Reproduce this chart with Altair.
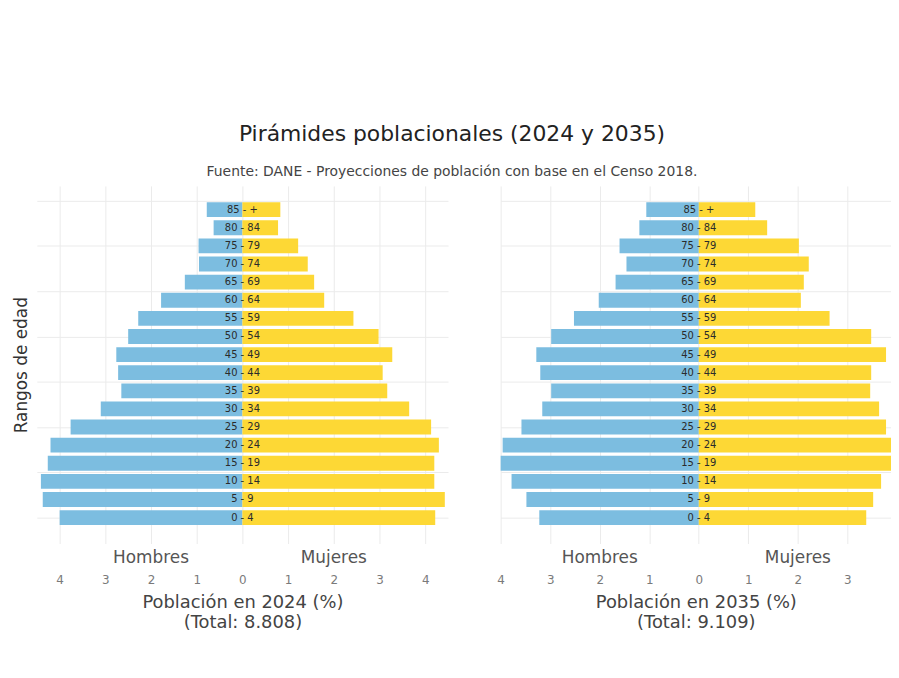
import altair as alt
import pandas as pd

# ---------------- data ----------------
ages = ["0 - 4", "5 - 9", "10 - 14", "15 - 19", "20 - 24", "25 - 29", "30 - 34",
        "35 - 39", "40 - 44", "45 - 49", "50 - 54", "55 - 59", "60 - 64",
        "65 - 69", "70 - 74", "75 - 79", "80 - 84", "85 - +"]
sexes = ["Hombres", "Mujeres"]

male_2024 = [4.00, 4.37, 4.41, 4.26, 4.20, 3.76, 3.10, 2.65, 2.72, 2.76, 2.50, 2.28,
             1.78, 1.26, 0.95, 0.96, 0.63, 0.78]
female_2024 = [4.22, 4.43, 4.20, 4.20, 4.30, 4.13, 3.65, 3.17, 3.07, 3.28, 2.98, 2.43,
               1.79, 1.57, 1.43, 1.22, 0.78, 0.83]
male_2035 = [3.22, 3.48, 3.78, 4.06, 3.96, 3.58, 3.16, 2.98, 3.20, 3.28, 2.98, 2.52,
             2.02, 1.68, 1.46, 1.60, 1.20, 1.06]
female_2035 = [3.38, 3.52, 3.68, 4.06, 4.04, 3.78, 3.64, 3.46, 3.48, 3.78, 3.48, 2.64,
               2.06, 2.12, 2.22, 2.02, 1.38, 1.14]

years = ["2024", "2035"]
totals = ["8.808", "9.109"]

FONT = "DejaVu Sans"


def panel(male, female, year, total, colors, xdomain, xticks, width, ytitle):
    df = pd.DataFrame({
        "age": ages * 2,
        "row": list(range(len(ages))) * 2,
        "sex": [sexes[0]] * len(ages) + [sexes[1]] * len(ages),
        "value": [-v for v in male] + list(female),
    })
    xscale = alt.Scale(domain=xdomain, nice=False, zero=False)
    yscale = alt.Scale(domain=[-1.43, 18.31], nice=False, zero=False)
    xaxis = alt.Axis(
        values=xticks,
        labelExpr="abs(datum.value) % 1 == 0 ? format(abs(datum.value), 'd') : ''",
        grid=True, ticks=False, domain=False, labelFlush=False, labelOverlap=False,
        labelColor="#7a7a7a", labelFontSize=12, labelFont=FONT, labelPadding=31,
        title=[f"Población en {year} (%)", f"(Total: {total})"],
        titleFont=FONT, titleFontSize=18, titleFontWeight="normal",
        titleColor="#444444", titlePadding=8, titleLineHeight=21,
    )
    if ytitle:
        yaxis = alt.Axis(values=[i * 2.5 for i in range(8)], grid=True, labels=False,
                         ticks=False, domain=False, title=ytitle, titleFont=FONT,
                         titleFontSize=17, titleFontWeight="normal",
                         titleColor="#333333", titlePadding=6)
    else:
        yaxis = alt.Axis(values=[i * 2.5 for i in range(8)], grid=True, labels=False,
                         ticks=False, domain=False, title=None)

    base = alt.Chart(df)
    bars = base.mark_bar(clip=True).transform_calculate(
        y0="datum.row - 0.41", y1="datum.row + 0.41"
    ).encode(
        x=alt.X("value:Q", scale=xscale, axis=xaxis),
        x2=alt.datum(0),
        y=alt.Y("y0:Q", scale=yscale, axis=yaxis),
        y2="y1:Q",
        color=alt.Color("sex:N", scale=alt.Scale(domain=sexes, range=colors), legend=None),
    )
    labels = base.transform_filter(f"datum.sex == '{sexes[0]}'").mark_text(
        font=FONT, fontSize=10, color="#2b2b2b"
    ).encode(x=alt.datum(0), y=alt.Y("row:Q"), text="age:N")

    one = alt.Data(values=[{"a": 1}])
    hom = alt.Chart(one).mark_text(text=sexes[0], font=FONT, fontSize=17, color="#555555").encode(
        x=alt.datum(-2), y=alt.value(375))
    muj = alt.Chart(one).mark_text(text=sexes[1], font=FONT, fontSize=17, color="#555555").encode(
        x=alt.datum(2), y=alt.value(375))

    return alt.layer(bars, labels, hom, muj).properties(width=width, height=360)


left = panel(male_2024, female_2024, years[0], totals[0], ["#7cbde0", "#fdd835"],
             [-4.5, 4.5], [i * 0.5 for i in range(-8, 9)], 414, "Rangos de edad")
right = panel(male_2035, female_2035, years[1], totals[1], ["#a9d5ec", "#ffe066"],
              [-4.0, 3.88], [i * 0.5 for i in range(-8, 8)], 393, None)

chart = alt.hconcat(left, right, spacing=49).properties(
    title=alt.TitleParams(
        text="Pirámides poblacionales (2024 y 2035)",
        subtitle="Fuente: DANE - Proyecciones de población con base en el Censo 2018.",
        anchor="middle", font=FONT, fontSize=22, fontWeight="normal", color="#222222",
        subtitleFont=FONT, subtitleFontSize=14, subtitleColor="#444444",
        subtitlePadding=19, offset=6,
    ),
    padding={"left": 5, "right": 0, "top": 114, "bottom": 5},
    background="white",
).configure_view(stroke=None).configure_axis(gridColor="#ebebeb", gridWidth=1)

chart.save("out.html", embed_options={"renderer": "svg", "actions": False})
